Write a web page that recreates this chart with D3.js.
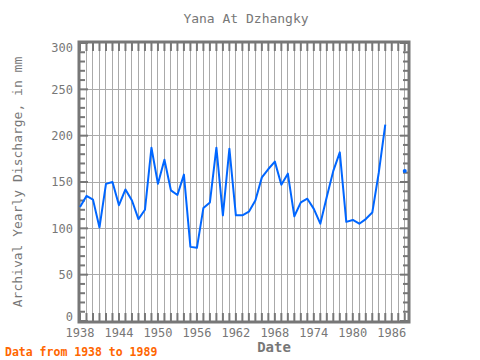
<!DOCTYPE html>
<html><head><meta charset="utf-8">
<script src="https://cdn.jsdelivr.net/npm/d3@7"></script>
<style>body{margin:0;background:#fff}svg{display:block}</style>
</head><body>
<svg id="c" width="480" height="360"></svg>
<script>
const years = d3.range(1938, 1989);
const discharge = [123,135,131,101,148,150,125,142,130,110,120,187,148,174,141,136,158,80,79,122,128,187,114,186,114,114,118,130,155,164,172,147,159,113,128,132,121,105,134,162,182,107,109,105,110,117,160,212,null,null,162];
const yTicks = [0,50,100,150,200,250,300];
const xTickYears = [1938,1944,1950,1956,1962,1968,1974,1980,1986];
const titleText = "Yana At Dzhangky";
const yLabel = "Archival Yearly Discharge, in mm";
const xLabel = "Date";
const note = "Data from 1938 to 1989";

const data = years.map((y,i)=>({year:y, v:discharge[i]}));
const svg = d3.select("#c");
const L=80,R=408,T=43,B=321;
const x = d3.scaleLinear().domain([1938,1988.5]).range([L,R]);
const y = d3.scaleLinear().domain([0,300]).range([B,T]);
const font = "'DejaVu Sans Mono', monospace";
const gray = "#777";

// grid
const g = svg.append("g");
g.selectAll("line.vg").data(d3.range(1939,1989)).enter().append("line")
  .attr("x1",d=>x(d)).attr("x2",d=>x(d)).attr("y1",T).attr("y2",B)
  .attr("stroke","#aaa").attr("stroke-width",1).attr("shape-rendering","crispEdges");
g.selectAll("line.hg").data(yTicks.slice(1,-1)).enter().append("line")
  .attr("x1",L).attr("x2",R).attr("y1",d=>y(d)).attr("y2",d=>y(d))
  .attr("stroke","#aaa").attr("stroke-width",1).attr("shape-rendering","crispEdges");

// ticks
const minor = d3.range(0,301,10);
g.selectAll("line.lt").data(minor).enter().append("line")
  .attr("x1",L).attr("x2",d=>L+(d%50===0?8:5)).attr("y1",d=>y(d)).attr("y2",d=>y(d))
  .attr("stroke",gray).attr("stroke-width",2);
g.selectAll("line.rt").data(minor).enter().append("line")
  .attr("x1",R).attr("x2",d=>R-(d%50===0?8:5)).attr("y1",d=>y(d)).attr("y2",d=>y(d))
  .attr("stroke",gray).attr("stroke-width",2);
g.selectAll("line.tt").data(d3.range(1938,1989)).enter().append("line")
  .attr("x1",d=>x(d)).attr("x2",d=>x(d)).attr("y1",T).attr("y2",T+8)
  .attr("stroke",gray).attr("stroke-width",2);
g.selectAll("line.bt").data(d3.range(1938,1989)).enter().append("line")
  .attr("x1",d=>x(d)).attr("x2",d=>x(d)).attr("y1",B).attr("y2",B-8)
  .attr("stroke",gray).attr("stroke-width",2);

// frame
svg.append("rect").attr("x",L-1).attr("y",T-1).attr("width",R-L+2).attr("height",B-T+2)
  .attr("fill","none").attr("stroke",gray).attr("stroke-width",3);

// line
const line = d3.line().defined(d=>d.v!=null).x(d=>x(d.year)).y(d=>y(d.v));
svg.append("path").datum(data).attr("d",line).attr("fill","none")
  .attr("stroke","#0066ff").attr("stroke-width",2).attr("stroke-linejoin","round");
// isolated points
const iso = data.filter((d,i)=>d.v!=null && (i===0||data[i-1].v==null) && (i===data.length-1||data[i+1].v==null));
svg.selectAll("circle.iso").data(iso).enter().append("circle")
  .attr("cx",d=>x(d.year)).attr("cy",d=>y(d.v)).attr("r",2).attr("fill","#0066ff");

// y labels
svg.selectAll("text.yl").data(yTicks).enter().append("text")
  .attr("x",73).attr("y",d=>y(d)+(d===0?-4:d===300?5:0))
  .attr("dy","0.35em").attr("text-anchor","end")
  .attr("font-family",font).attr("font-size",12).attr("fill",gray).text(d=>d);
// x labels
svg.selectAll("text.xl").data(xTickYears).enter().append("text")
  .attr("x",d=>x(d)).attr("y",337).attr("text-anchor","middle")
  .attr("font-family",font).attr("font-size",12).attr("fill",gray).text(d=>d);

svg.append("text").attr("x",246).attr("y",23).attr("text-anchor","middle")
  .attr("font-family",font).attr("font-size",13).attr("fill",gray).text(titleText);
svg.append("text").attr("transform","translate(22,182) rotate(-90)").attr("text-anchor","middle")
  .attr("font-family",font).attr("font-size",13).attr("fill",gray).text(yLabel);
svg.append("text").attr("x",274).attr("y",352).attr("text-anchor","middle")
  .attr("font-family",font).attr("font-size",14).attr("font-weight","bold").attr("fill",gray).text(xLabel);
svg.append("text").attr("x",5).attr("y",356)
  .attr("font-family",font).attr("font-size",11.5).attr("font-weight","bold").attr("fill","#ff6600").text(note);
</script>
</body></html>
